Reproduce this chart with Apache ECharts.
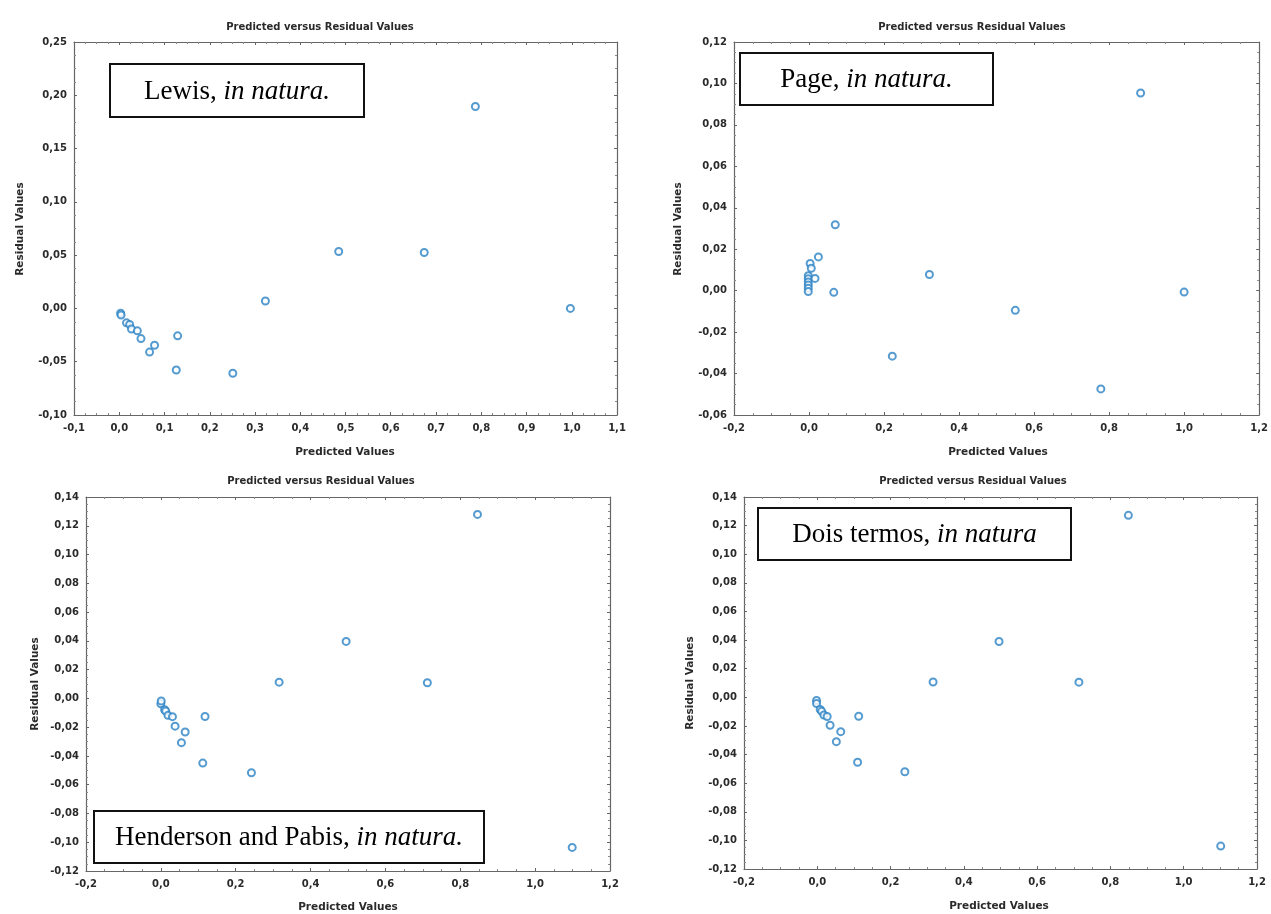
<!DOCTYPE html>
<html>
<head>
<meta charset="utf-8">
<script src="https://cdn.jsdelivr.net/npm/echarts@6/dist/echarts.min.js"></script>
<style>
html,body{margin:0;padding:0;background:#fff;}
#c{width:1271px;height:914px;}
</style>
</head>
<body>
<div id="c"></div>
<script>
// ---------- data ----------
const chartTitle = 'Predicted versus Residual Values';
const xAxisName = 'Predicted Values';
const yAxisName = 'Residual Values';

// Lewis, in natura.
const lewisX = [0.003, 0.004, 0.016, 0.023, 0.027, 0.040, 0.048, 0.067, 0.078, 0.126, 0.129, 0.251, 0.323, 0.485, 0.674, 0.787, 0.997];
const lewisY = [-0.0045, -0.0062, -0.0135, -0.0150, -0.0193, -0.0210, -0.0283, -0.0410, -0.0346, -0.0578, -0.0257, -0.0608, 0.0070, 0.0534, 0.0525, 0.1895, 0.0000];
const lewisXRange = [-0.1, 1.1, 0.1];
const lewisYRange = [-0.10, 0.25, 0.05];

// Page, in natura.
const pageX = [-0.002, -0.002, -0.002, -0.002, -0.002, -0.002, 0.003, 0.006, 0.016, 0.025, 0.066, 0.070, 0.222, 0.321, 0.550, 0.778, 0.884, 1.000];
const pageY = [0.0072, 0.0057, 0.0042, 0.0027, 0.0012, -0.0004, 0.0131, 0.0108, 0.0059, 0.0163, -0.0008, 0.0318, -0.0316, 0.0078, -0.0095, -0.0474, 0.0954, -0.0007];
const pageXRange = [-0.2, 1.2, 0.2];
const pageYRange = [-0.06, 0.12, 0.02];

// Henderson and Pabis, in natura.
const hendX = [0.000, 0.001, 0.010, 0.013, 0.019, 0.031, 0.038, 0.055, 0.065, 0.112, 0.118, 0.242, 0.316, 0.495, 0.712, 0.846, 1.099];
const hendY = [-0.0038, -0.0018, -0.0079, -0.0088, -0.0118, -0.0127, -0.0193, -0.0308, -0.0234, -0.0450, -0.0126, -0.0517, 0.0113, 0.0396, 0.0109, 0.1279, -0.1036];
const hendXRange = [-0.2, 1.2, 0.2];
const hendYRange = [-0.12, 0.14, 0.02];

// Dois termos, in natura
const doisX = [-0.002, -0.002, 0.008, 0.012, 0.018, 0.027, 0.035, 0.052, 0.064, 0.110, 0.113, 0.239, 0.316, 0.496, 0.714, 0.849, 1.101];
const doisY = [-0.0022, -0.0043, -0.0085, -0.0098, -0.0124, -0.0134, -0.0195, -0.0310, -0.0240, -0.0454, -0.0132, -0.0520, 0.0107, 0.0390, 0.0106, 0.1272, -0.1040];
const doisXRange = [-0.2, 1.2, 0.2];
const doisYRange = [-0.12, 0.14, 0.02];

const labelNormal = ['Lewis, ', 'Page, ', 'Henderson and Pabis, ', 'Dois termos, '];
const labelItalic = ['in natura.', 'in natura.', 'in natura.', 'in natura'];

// ---------- layout / style ----------
const panels = [
  {x: lewisX, y: lewisY, xr: lewisXRange, yr: lewisYRange,
   grid: {left: 74, top: 42, width: 543, height: 373},
   title: [320, 27], xname: [345, 452], yname: [20, 229],
   box: [110, 64, 254, 53]},
  {x: pageX, y: pageY, xr: pageXRange, yr: pageYRange,
   grid: {left: 734, top: 42, width: 531, height: 373},
   title: [972, 27], xname: [998, 452], yname: [678, 229],
   box: [740, 53, 253, 52]},
  {x: hendX, y: hendY, xr: hendXRange, yr: hendYRange,
   grid: {left: 86, top: 497, width: 524, height: 374},
   title: [321, 481], xname: [348, 907], yname: [35, 684],
   box: [94, 811, 390, 52]},
  {x: doisX, y: doisY, xr: doisXRange, yr: doisYRange,
   grid: {left: 744, top: 497, width: 513, height: 372},
   title: [973, 481], xname: [999, 906], yname: [690, 683],
   box: [758, 508, 313, 52]}
];

const sans = 'DejaVu Sans';
const serif = 'Liberation Serif';
const frameColor = '#666';
const textColor = '#2a2a2a';
const fmt = (d) => (v) => v.toFixed(d).replace('.', ',');
const tickStyle = {show: true, inside: true, length: 3, lineStyle: {color: frameColor}};
const minorStyle = {show: true, splitNumber: 4, length: 2, lineStyle: {color: '#888'}};

const grids = [], xAxes = [], yAxes = [], series = [], graphics = [];
panels.forEach((p, i) => {
  grids.push(Object.assign({containLabel: false}, p.grid));
  const common = {
    type: 'value', gridIndex: i, splitLine: {show: false},
    axisLine: {show: true, onZero: false, lineStyle: {color: frameColor, width: 1.2}},
    axisTick: tickStyle, minorTick: minorStyle
  };
  xAxes.push(Object.assign({}, common, {
    position: 'bottom', min: p.xr[0], max: p.xr[1], interval: p.xr[2],
    axisLabel: {formatter: fmt(1), fontFamily: sans, fontWeight: 'bold', fontSize: 10, color: textColor, margin: 8}
  }));
  xAxes.push(Object.assign({}, common, {
    position: 'top', min: p.xr[0], max: p.xr[1], interval: p.xr[2],
    axisLabel: {show: false}
  }));
  yAxes.push(Object.assign({}, common, {
    position: 'left', min: p.yr[0], max: p.yr[1], interval: p.yr[2],
    axisLabel: {formatter: fmt(2), fontFamily: sans, fontWeight: 'bold', fontSize: 10, color: textColor, margin: 7}
  }));
  yAxes.push(Object.assign({}, common, {
    position: 'right', min: p.yr[0], max: p.yr[1], interval: p.yr[2],
    axisLabel: {show: false}
  }));
  series.push({
    type: 'scatter', xAxisIndex: i * 2, yAxisIndex: i * 2,
    data: p.x.map((v, k) => [v, p.y[k]]),
    symbol: 'emptyCircle', symbolSize: 7,
    itemStyle: {color: '#2b82c4', borderWidth: 1.7},
    silent: true, animation: false
  });
  graphics.push({type: 'text', x: p.title[0], y: p.title[1],
    style: {text: chartTitle, fill: textColor, font: 'bold 10px "' + sans + '"', textAlign: 'center', textVerticalAlign: 'middle'}});
  graphics.push({type: 'text', x: p.xname[0], y: p.xname[1],
    style: {text: xAxisName, fill: textColor, font: 'bold 10.5px "' + sans + '"', textAlign: 'center', textVerticalAlign: 'middle'}});
  graphics.push({type: 'text', x: p.yname[0], y: p.yname[1], rotation: Math.PI / 2,
    style: {text: yAxisName, fill: textColor, font: 'bold 10.5px "' + sans + '"', textAlign: 'center', textVerticalAlign: 'middle'}});
  const b = p.box;
  graphics.push({type: 'rect', shape: {x: b[0], y: b[1], width: b[2], height: b[3]},
    style: {fill: '#fff', stroke: '#111', lineWidth: 2}, z: 100});
  graphics.push({type: 'text', x: b[0] + b[2] / 2, y: b[1] + b[3] / 2 + 1, z: 101,
    style: {
      text: '{n|' + labelNormal[i] + '}{it|' + labelItalic[i] + '}',
      textAlign: 'center', textVerticalAlign: 'middle',
      rich: {
        n: {fontFamily: serif, fontSize: 27, fill: '#000'},
        it: {fontFamily: serif, fontSize: 27, fontStyle: 'italic', fill: '#000'}
      }
    }});
});

const chart = echarts.init(document.getElementById('c'), null, {renderer: 'canvas'});
chart.setOption({
  backgroundColor: '#fff',
  animation: false,
  grid: grids,
  xAxis: xAxes,
  yAxis: yAxes,
  series: series,
  graphic: graphics
});
</script>
</body>
</html>
